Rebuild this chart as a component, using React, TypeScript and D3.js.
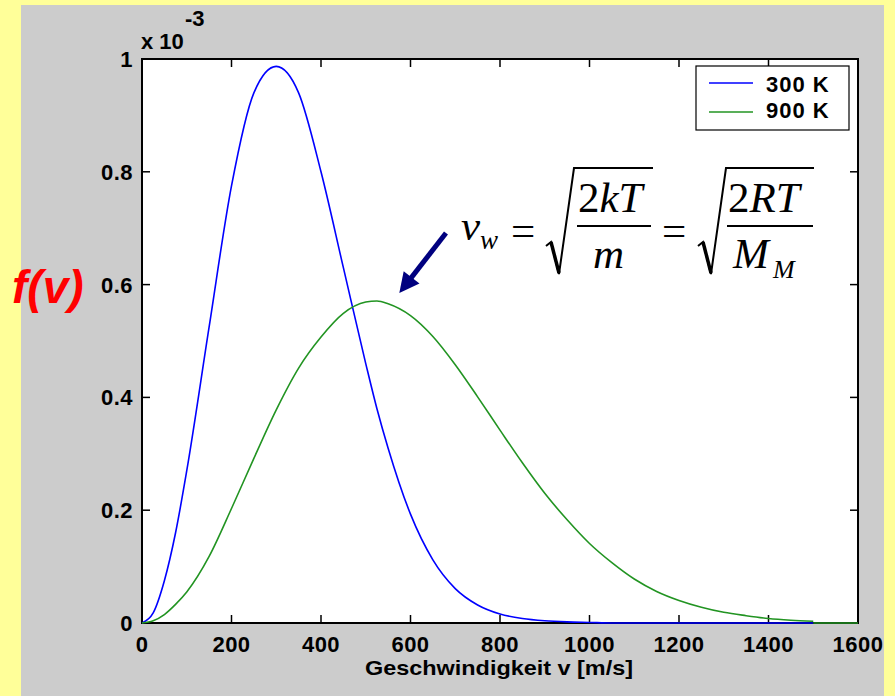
import React from 'react';
import * as d3 from 'd3';

// speed samples [m/s] and f(v) values (x 1e-3)
const speeds = [0, 25, 50, 75, 100, 150, 200, 250, 300, 350, 400, 450, 500, 525, 550, 600, 650, 700, 750,
  800, 850, 900, 950, 1000, 1050, 1100, 1150, 1200, 1250, 1300, 1350, 1400, 1450, 1500];
const f300 = [0, 0.018, 0.075, 0.16, 0.27, 0.525, 0.775, 0.94, 0.987, 0.94, 0.8, 0.63, 0.46, 0.38, 0.31,
  0.193, 0.112, 0.061, 0.032, 0.016, 0.008, 0.004, 0.002, 0.001, 0, 0, 0, 0, 0, 0, 0, 0, 0, 0];
const f900 = [0, 0.004, 0.015, 0.033, 0.055, 0.118, 0.203, 0.292, 0.378, 0.452, 0.507, 0.549, 0.569, 0.571,
  0.566, 0.545, 0.508, 0.458, 0.401, 0.342, 0.284, 0.23, 0.183, 0.141, 0.107, 0.078, 0.056, 0.04, 0.028,
  0.019, 0.013, 0.008, 0.005, 0.003];
// the 900 K line runs on along zero to the end of the axis
const tailSpeeds = [1500, 1600];
const tailValues = [0, 0];

const seriesNames = ['300 K', '900 K'];
const seriesColors = ['#0000ff', '#229422'];

const xTicks = [0, 200, 400, 600, 800, 1000, 1200, 1400, 1600];
const yTicks = [0, 0.2, 0.4, 0.6, 0.8, 1];

const W = 895;
const H = 696;
const plot = { left: 142, top: 59, right: 858, bottom: 623 };
const tickFont = "'Liberation Sans', Arial, Helvetica, sans-serif";
const mathFont = "'Liberation Serif', 'Times New Roman', serif";

const App = () => {
  const x = d3.scaleLinear().domain([0, 1600]).range([plot.left, plot.right]);
  const y = d3.scaleLinear().domain([0, 1]).range([plot.bottom, plot.top]);

  const line = d3.line<[number, number]>()
    .x(d => x(d[0]))
    .y(d => y(d[1]))
    .curve(d3.curveMonotoneX);

  const blue = speeds.map((v, i) => [v, f300[i]] as [number, number]);
  const green = speeds.map((v, i) => [v, f900[i]] as [number, number]);
  const tail = tailSpeeds.map((v, i) => [v, tailValues[i]] as [number, number]);

  // arrow pointing at the 900 K maximum region
  const tip = [x(575), y(0.585)];
  const start = [446, 233];
  const dx = tip[0] - start[0];
  const dy = tip[1] - start[1];
  const len = Math.sqrt(dx * dx + dy * dy);
  const ux = dx / len;
  const uy = dy / len;
  const headLen = 20;
  const headW = 10;
  const base = [tip[0] - ux * headLen, tip[1] - uy * headLen];
  const head = [
    tip,
    [base[0] - uy * headW, base[1] + ux * headW],
    [base[0] + uy * headW, base[1] - ux * headW],
  ];

  const radical = (x0: number, x1: number) =>
    `M${x0},${246} L${x0 + 5},${242} L${x0 + 13},${274} L${x0 + 28},${168} L${x1},${168}`;

  return (
    <svg width={W} height={H} style={{ position: 'absolute', left: 0, top: 0 }}>
      <rect x={0} y={0} width={W} height={H} fill="#ffff99" />
      <rect x={21} y={5} width={863} height={H - 5} fill="#cccccc" />

      {/* axes box */}
      <rect x={plot.left} y={plot.top} width={plot.right - plot.left} height={plot.bottom - plot.top}
        fill="#ffffff" stroke="#000" strokeWidth={2} />

      {xTicks.map(t => (
        <g key={'x' + t}>
          <line x1={x(t)} x2={x(t)} y1={plot.bottom} y2={plot.bottom - 8} stroke="#000" strokeWidth={1.5} />
          <line x1={x(t)} x2={x(t)} y1={plot.top} y2={plot.top + 8} stroke="#000" strokeWidth={1.5} />
          <text x={x(t)} y={652} textAnchor="middle" fontFamily={tickFont} fontWeight="bold"
            fontSize={22} fill="#000" letterSpacing={0.5}>{t}</text>
        </g>
      ))}
      {yTicks.map(t => (
        <g key={'y' + t}>
          <line x1={plot.left} x2={plot.left + 8} y1={y(t)} y2={y(t)} stroke="#000" strokeWidth={1.5} />
          <line x1={plot.right} x2={plot.right - 8} y1={y(t)} y2={y(t)} stroke="#000" strokeWidth={1.5} />
          <text x={133} y={y(t) + 8} textAnchor="end" fontFamily={tickFont} fontWeight="bold"
            fontSize={22} fill="#000" letterSpacing={0.5}>{d3.format('~g')(t)}</text>
        </g>
      ))}

      <text x={141} y={49} fontFamily={tickFont} fontWeight="bold" fontSize={22} fill="#000">x 10</text>
      <text x={185} y={26} fontFamily={tickFont} fontWeight="bold" fontSize={22} fill="#000">-3</text>

      {/* curves */}
      <path d={line(blue) || ''} fill="none" stroke={seriesColors[0]} strokeWidth={1.6} />
      <path d={line(green) || ''} fill="none" stroke={seriesColors[1]} strokeWidth={1.6} />
      <path d={line(tail) || ''} fill="none" stroke={seriesColors[1]} strokeWidth={1.6} />

      {/* legend */}
      <rect x={696} y={66} width={153} height={64} fill="#ffffff" stroke="#000" strokeWidth={1.2} />
      {seriesNames.map((n, i) => (
        <g key={n}>
          <line x1={709} x2={753} y1={83 + i * 29} y2={83 + i * 29} stroke={seriesColors[i]} strokeWidth={1.6} />
          <text x={766} y={92 + i * 26} fontFamily={tickFont} fontWeight="bold" fontSize={22} fill="#000"
            letterSpacing={1}>{n}</text>
        </g>
      ))}

      <text x={499} y={675} textAnchor="middle" fontFamily={tickFont}
        fontWeight="bold" fontSize={21} fill="#000" textLength={268} lengthAdjust="spacingAndGlyphs">
        Geschwindigkeit v [m/s]
      </text>

      <text x={12} y={303} fontFamily={tickFont} fontWeight="bold" fontStyle="italic" fontSize={46}
        fill="#ff0000">f(v)</text>

      {/* arrow */}
      <line x1={start[0]} y1={start[1]} x2={base[0] + ux * 2} y2={base[1] + uy * 2} stroke="#00007f" strokeWidth={5} />
      <polygon points={head.map(p => p.join(',')).join(' ')} fill="#00007f" />

      {/* formula */}
      <g fill="#000" fontFamily={mathFont}>
        <text x={461} y={240} fontSize={43} fontStyle="italic">v</text>
        <text x={480} y={249} fontSize={27} fontStyle="italic">w</text>
        <text x={511} y={245} fontSize={43}>=</text>
        <text x={578} y={212} fontSize={43}>2<tspan fontStyle="italic">kT</tspan></text>
        <line x1={577} x2={651} y1={226} y2={226} stroke="#000" strokeWidth={2} />
        <text x={593} y={268} fontSize={43} fontStyle="italic">m</text>
        <text x={662} y={245} fontSize={43}>=</text>
        <text x={728} y={212} fontSize={43}>2<tspan fontStyle="italic">RT</tspan></text>
        <line x1={727} x2={813} y1={226} y2={226} stroke="#000" strokeWidth={2} />
        <text x={733} y={268} fontSize={43} fontStyle="italic">M</text>
        <text x={773} y={278} fontSize={26} fontStyle="italic">M</text>
      </g>
      <path d={radical(546, 653)} fill="none" stroke="#000" strokeWidth={2} strokeLinejoin="miter" />
      <path d={radical(698, 814)} fill="none" stroke="#000" strokeWidth={2} strokeLinejoin="miter" />
      <line x1={551} y1={242} x2={559} y2={273} stroke="#000" strokeWidth={3.5} />
      <line x1={703} y1={242} x2={711} y2={273} stroke="#000" strokeWidth={3.5} />
    </svg>
  );
};

export default App;
